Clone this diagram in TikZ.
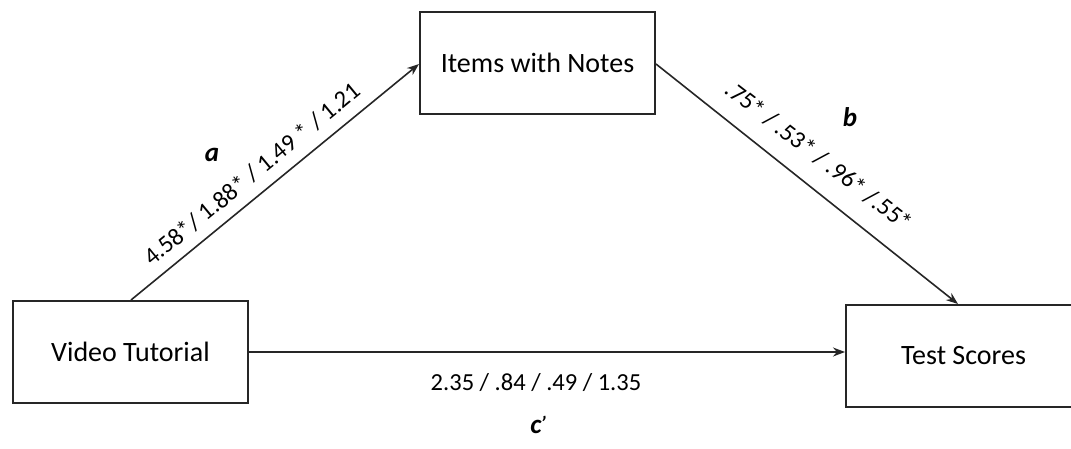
\documentclass[tikz,border=0pt]{standalone}
\usepackage{fontspec}
\setmainfont{Carlito}
\usetikzlibrary{arrows.meta}
\begin{document}
\begin{tikzpicture}[x=1pt,y=-1pt,
  box/.style={draw=black!85, line width=2pt, minimum width=235pt, minimum height=102pt, inner sep=0pt, font=\fontsize{28}{32}\selectfont, anchor=north west},
  conn/.style={draw=black!85, line width=1.6pt, -{Stealth[length=12pt,width=9pt]}},
  lab/.style={font=\fontsize{24.5}{28}\selectfont, inner sep=0pt},
  letter/.style={font=\fontsize{27}{30}\selectfont\bfseries\itshape, inner sep=0pt}]
\useasboundingbox (0,0) rectangle (1071,449);
\node[box] (vt) at (12,300) {Video Tutorial};
\node[box] (iwn) at (419,11) {Items with Notes};
\node[box] (ts) at (845,304) {Test Scores};
\coordinate (aS) at (131,300);
\coordinate (bE) at (958,304);
\draw[conn] (aS) -- (iwn.west |- 0,64);
\draw[conn] (iwn.east |- 0,64) -- (bE);
\draw[conn] (vt.east |- 0,352) -- (ts.west |- 0,352);
\node[lab, rotate=39.5] (la) at (252,174) {4.58*/ 1.88* / 1.49 * / 1.21};
\node[lab, rotate=-37.7] (lb) at (819,156) {.75* / .53* / .96* /.55*};
\node[lab] (lc) at (536,383) {2.35 / .84 / .49 / 1.35};
\node[letter] (na) at (212,155) {a};
\node[letter] (nb) at (850,117) {b};
\node[letter] (nc) at (536,425) {c\rlap{\kern-1pt\raisebox{3pt}{\fontsize{20}{22}\selectfont\textquoteright}}};
\end{tikzpicture}
\end{document}
